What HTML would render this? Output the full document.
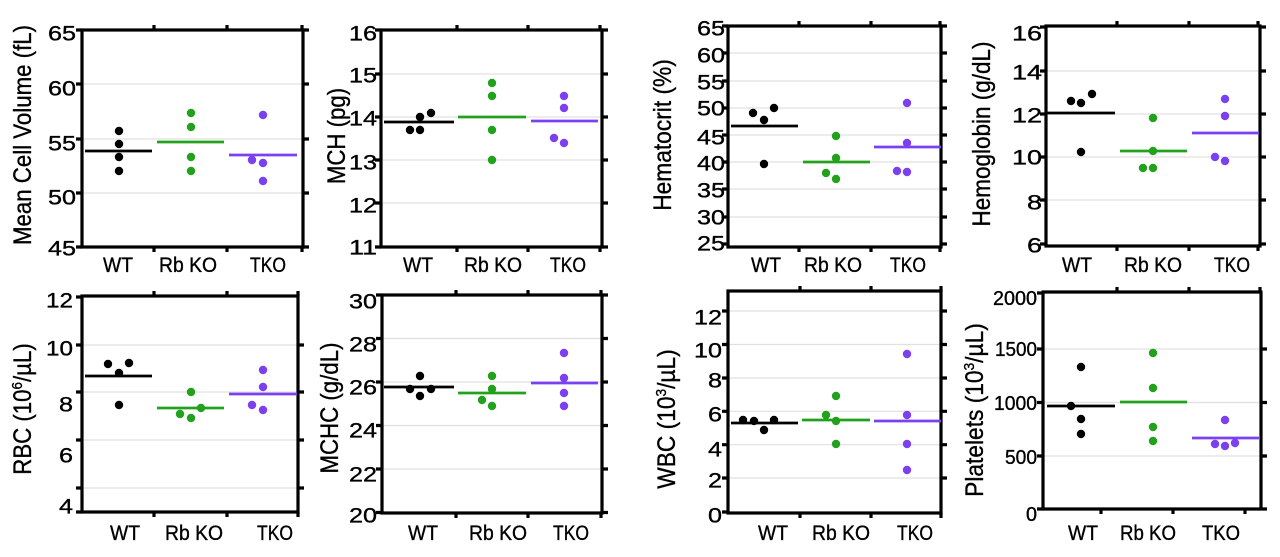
<!DOCTYPE html>
<html><head><meta charset="utf-8"><style>
html,body{margin:0;padding:0;background:#fff;}
svg{display:block;}
text{font-family:"Liberation Sans",Arial,sans-serif;fill:#000;stroke:#000;stroke-width:0.35;}
.ax{stroke:#000;stroke-width:3.2;fill:none;}
.tk{stroke:#000;stroke-width:3.2;}
.gr{stroke:#e0e0e0;stroke-width:1.2;}
.yl{font-size:21px;text-anchor:end;}
.y8{font-size:20px;text-anchor:end;}
.xl{font-size:21px;text-anchor:middle;}
.tt{font-size:25px;text-anchor:middle;}
.k{fill:#000;} .g{fill:#22a11c;} .p{fill:#7b40f0;}
.mk{stroke:#000;stroke-width:2.8;} .mg{stroke:#22a11c;stroke-width:2.8;} .mp{stroke:#7b40f0;stroke-width:2.8;}
</style></head><body>
<svg width="1280" height="557" viewBox="0 0 1280 557" xmlns="http://www.w3.org/2000/svg">
<rect width="1280" height="557" fill="#fff"/>

<!-- ============ PANEL 1 ============ -->
<g>
<line class="gr" x1="82" x2="305" y1="84" y2="84"/><line class="gr" x1="82" x2="305" y1="139" y2="139"/><line class="gr" x1="82" x2="305" y1="193" y2="193"/>
<rect class="ax" x="82" y="30" width="221" height="217"/>
<path class="tk" d="M154 30V25M227 30V25M302 30V25M154 247V252M227 247V252M302 247V252"/>
<path class="tk" d="M82 30H76M82 84H76M82 139H76M82 193H76M82 247H76M303 30H309M303 84H309M303 139H309M303 193H309M303 247H309"/>
<text class="yl" x="76" y="40.5" textLength="28" lengthAdjust="spacingAndGlyphs">65</text>
<text class="yl" x="76" y="95.5" textLength="28" lengthAdjust="spacingAndGlyphs">60</text>
<text class="yl" x="76" y="150.5" textLength="28" lengthAdjust="spacingAndGlyphs">55</text>
<text class="yl" x="76" y="204.5" textLength="28" lengthAdjust="spacingAndGlyphs">50</text>
<text class="yl" x="76" y="255.5" textLength="28" lengthAdjust="spacingAndGlyphs">45</text>
<text class="tt" transform="translate(31,135) rotate(-90) scale(0.89,1)">Mean Cell Volume (fL)</text>
<text class="xl" x="118" y="272" textLength="30" lengthAdjust="spacingAndGlyphs">WT</text>
<text class="xl" x="188" y="272" textLength="58" lengthAdjust="spacingAndGlyphs">Rb KO</text>
<text class="xl" x="268" y="272" textLength="36" lengthAdjust="spacingAndGlyphs">TKO</text>
<line class="mk" x1="85" x2="152" y1="151" y2="151"/>
<line class="mg" x1="157" x2="224" y1="142" y2="142"/>
<line class="mp" x1="229" x2="297" y1="155" y2="155"/>
<circle class="k" cx="119" cy="131" r="4.2"/><circle class="k" cx="119" cy="144" r="4.2"/><circle class="k" cx="119" cy="157" r="4.2"/><circle class="k" cx="119" cy="171" r="4.2"/>
<circle class="g" cx="191" cy="113" r="4.2"/><circle class="g" cx="191" cy="127" r="4.2"/><circle class="g" cx="191" cy="157" r="4.2"/><circle class="g" cx="191" cy="171" r="4.2"/>
<circle class="p" cx="263" cy="115" r="4.2"/><circle class="p" cx="252" cy="160" r="4.2"/><circle class="p" cx="263" cy="163" r="4.2"/><circle class="p" cx="263" cy="181" r="4.2"/>
</g>

<!-- ============ PANEL 2 ============ -->
<g>
<line class="gr" x1="381" x2="602" y1="74" y2="74"/><line class="gr" x1="381" x2="602" y1="117" y2="117"/><line class="gr" x1="381" x2="602" y1="160" y2="160"/><line class="gr" x1="381" x2="602" y1="203" y2="203"/>
<rect class="ax" x="381" y="30" width="221" height="217"/>
<path class="tk" d="M457 30V25M528 30V25M600 30V25M457 247V252M528 247V252M600 247V252"/>
<path class="tk" d="M381 30H375M381 74H375M381 117H375M381 160H375M381 203H375M381 247H375M602 30H608M602 74H608M602 117H608M602 160H608M602 203H608M602 247H608"/>
<text class="yl" x="377" y="40.5" textLength="28" lengthAdjust="spacingAndGlyphs">16</text>
<text class="yl" x="377" y="82.5" textLength="28" lengthAdjust="spacingAndGlyphs">15</text>
<text class="yl" x="377" y="125.5" textLength="28" lengthAdjust="spacingAndGlyphs">14</text>
<text class="yl" x="377" y="169.5" textLength="28" lengthAdjust="spacingAndGlyphs">13</text>
<text class="yl" x="377" y="212.5" textLength="28" lengthAdjust="spacingAndGlyphs">12</text>
<text class="yl" x="377" y="254.5" textLength="28" lengthAdjust="spacingAndGlyphs">11</text>
<text class="tt" transform="translate(345,136) rotate(-90) scale(0.89,1)">MCH (pg)</text>
<text class="xl" x="418" y="272" textLength="30" lengthAdjust="spacingAndGlyphs">WT</text>
<text class="xl" x="493" y="272" textLength="58" lengthAdjust="spacingAndGlyphs">Rb KO</text>
<text class="xl" x="568" y="272" textLength="36" lengthAdjust="spacingAndGlyphs">TKO</text>
<line class="mk" x1="384" x2="454" y1="122" y2="122"/>
<line class="mg" x1="458" x2="526" y1="117" y2="117"/>
<line class="mp" x1="531" x2="598" y1="121" y2="121"/>
<circle class="k" cx="410" cy="130" r="4.2"/><circle class="k" cx="420" cy="130" r="4.2"/><circle class="k" cx="420" cy="117" r="4.2"/><circle class="k" cx="431" cy="113" r="4.2"/>
<circle class="g" cx="492" cy="83" r="4.2"/><circle class="g" cx="492" cy="96" r="4.2"/><circle class="g" cx="492" cy="130" r="4.2"/><circle class="g" cx="492" cy="160" r="4.2"/>
<circle class="p" cx="564" cy="96" r="4.2"/><circle class="p" cx="564" cy="108" r="4.2"/><circle class="p" cx="554" cy="138" r="4.2"/><circle class="p" cx="564" cy="143" r="4.2"/>
</g>

<!-- ============ PANEL 3 ============ -->
<g>
<line class="gr" x1="728" x2="941" y1="53" y2="53"/><line class="gr" x1="728" x2="941" y1="81" y2="81"/><line class="gr" x1="728" x2="941" y1="108" y2="108"/><line class="gr" x1="728" x2="941" y1="135" y2="135"/><line class="gr" x1="728" x2="941" y1="162" y2="162"/><line class="gr" x1="728" x2="941" y1="189" y2="189"/><line class="gr" x1="728" x2="941" y1="217" y2="217"/>
<rect class="ax" x="728" y="26" width="213" height="221"/>
<path class="tk" d="M799 26V21M871 26V21M940 26V21M799 247V252M871 247V252M940 247V252"/>
<path class="tk" d="M728 26H722M728 53H722M728 81H722M728 108H722M728 135H722M728 162H722M728 189H722M728 217H722M728 244H722M941 26H947M941 53H947M941 81H947M941 108H947M941 135H947M941 162H947M941 189H947M941 217H947M941 244H947"/>
<text class="yl" x="725" y="35.5" textLength="28" lengthAdjust="spacingAndGlyphs">65</text>
<text class="yl" x="725" y="62.5" textLength="28" lengthAdjust="spacingAndGlyphs">60</text>
<text class="yl" x="725" y="89.5" textLength="28" lengthAdjust="spacingAndGlyphs">55</text>
<text class="yl" x="725" y="115.5" textLength="28" lengthAdjust="spacingAndGlyphs">50</text>
<text class="yl" x="725" y="144.5" textLength="28" lengthAdjust="spacingAndGlyphs">45</text>
<text class="yl" x="725" y="170.5" textLength="28" lengthAdjust="spacingAndGlyphs">40</text>
<text class="yl" x="725" y="197.5" textLength="28" lengthAdjust="spacingAndGlyphs">35</text>
<text class="yl" x="725" y="224.5" textLength="28" lengthAdjust="spacingAndGlyphs">30</text>
<text class="yl" x="725" y="250.5" textLength="28" lengthAdjust="spacingAndGlyphs">25</text>
<text class="tt" transform="translate(671,135) rotate(-90) scale(0.91,1)">Hematocrit (%)</text>
<text class="xl" x="766" y="272" textLength="30" lengthAdjust="spacingAndGlyphs">WT</text>
<text class="xl" x="833" y="272" textLength="58" lengthAdjust="spacingAndGlyphs">Rb KO</text>
<text class="xl" x="908" y="272" textLength="36" lengthAdjust="spacingAndGlyphs">TKO</text>
<line class="mk" x1="731" x2="798" y1="126" y2="126"/>
<line class="mg" x1="803" x2="870" y1="162" y2="162"/>
<line class="mp" x1="874" x2="941" y1="147" y2="147"/>
<circle class="k" cx="753" cy="113" r="4.2"/><circle class="k" cx="764" cy="120" r="4.2"/><circle class="k" cx="774" cy="108" r="4.2"/><circle class="k" cx="764" cy="164" r="4.2"/>
<circle class="g" cx="836" cy="136" r="4.2"/><circle class="g" cx="836" cy="158" r="4.2"/><circle class="g" cx="826" cy="173" r="4.2"/><circle class="g" cx="836" cy="179" r="4.2"/>
<circle class="p" cx="907" cy="103" r="4.2"/><circle class="p" cx="907" cy="143" r="4.2"/><circle class="p" cx="897" cy="171" r="4.2"/><circle class="p" cx="907" cy="172" r="4.2"/>
</g>

<!-- ============ PANEL 4 ============ -->
<g>
<line class="gr" x1="1046" x2="1260" y1="71" y2="71"/><line class="gr" x1="1046" x2="1260" y1="114" y2="114"/><line class="gr" x1="1046" x2="1260" y1="157" y2="157"/><line class="gr" x1="1046" x2="1260" y1="200" y2="200"/>
<rect class="ax" x="1046" y="26" width="214" height="220"/>
<path class="tk" d="M1117 26V21M1189 26V21M1258 26V21M1117 246V251M1189 246V251M1258 246V251"/>
<path class="tk" d="M1046 27H1040M1046 71H1040M1046 114H1040M1046 157H1040M1046 200H1040M1046 244H1040M1260 27H1266M1260 71H1266M1260 114H1266M1260 157H1266M1260 200H1266M1260 244H1266"/>
<text class="yl" x="1042" y="40.5" textLength="30" lengthAdjust="spacingAndGlyphs">16</text>
<text class="yl" x="1042" y="79.5" textLength="30" lengthAdjust="spacingAndGlyphs">14</text>
<text class="yl" x="1042" y="122.5" textLength="30" lengthAdjust="spacingAndGlyphs">12</text>
<text class="yl" x="1042" y="164.5" textLength="30" lengthAdjust="spacingAndGlyphs">10</text>
<text class="yl" x="1042" y="209.5" textLength="15" lengthAdjust="spacingAndGlyphs">8</text>
<text class="yl" x="1042" y="252.5" textLength="15" lengthAdjust="spacingAndGlyphs">6</text>
<text class="tt" transform="translate(990,134) rotate(-90) scale(0.9,1)">Hemoglobin (g/dL)</text>
<text class="xl" x="1077" y="272" textLength="30" lengthAdjust="spacingAndGlyphs">WT</text>
<text class="xl" x="1153" y="272" textLength="58" lengthAdjust="spacingAndGlyphs">Rb KO</text>
<text class="xl" x="1232" y="272" textLength="36" lengthAdjust="spacingAndGlyphs">TKO</text>
<line class="mk" x1="1047" x2="1115" y1="113" y2="113"/>
<line class="mg" x1="1120" x2="1187" y1="151" y2="151"/>
<line class="mp" x1="1192" x2="1259" y1="133" y2="133"/>
<circle class="k" cx="1071" cy="101" r="4.2"/><circle class="k" cx="1081" cy="103" r="4.2"/><circle class="k" cx="1092" cy="94" r="4.2"/><circle class="k" cx="1081" cy="152" r="4.2"/>
<circle class="g" cx="1153" cy="118" r="4.2"/><circle class="g" cx="1153" cy="151" r="4.2"/><circle class="g" cx="1143" cy="168" r="4.2"/><circle class="g" cx="1153" cy="168" r="4.2"/>
<circle class="p" cx="1225" cy="99" r="4.2"/><circle class="p" cx="1225" cy="116" r="4.2"/><circle class="p" cx="1215" cy="157" r="4.2"/><circle class="p" cx="1225" cy="161" r="4.2"/>
</g>

<!-- ============ PANEL 5 ============ -->
<g>
<line class="gr" x1="82" x2="298" y1="345" y2="345"/><line class="gr" x1="82" x2="298" y1="392" y2="392"/><line class="gr" x1="82" x2="298" y1="440" y2="440"/><line class="gr" x1="82" x2="298" y1="488" y2="488"/>
<rect class="ax" x="82" y="296" width="216" height="216"/>
<path class="tk" d="M154 296V291M227 296V291M298 296V291M154 512V517M227 512V517M298 512V517"/>
<path class="tk" d="M82 297H76M82 345H76M82 392H76M82 440H76M82 488H76M82 512H76M298 345H304M298 392H304M298 440H304M298 488H304"/>
<text class="yl" x="73" y="307.5" textLength="27" lengthAdjust="spacingAndGlyphs">12</text>
<text class="yl" x="73" y="355.5" textLength="27" lengthAdjust="spacingAndGlyphs">10</text>
<text class="yl" x="73" y="411.5" textLength="14" lengthAdjust="spacingAndGlyphs">8</text>
<text class="yl" x="73" y="462.5" textLength="14" lengthAdjust="spacingAndGlyphs">6</text>
<text class="yl" x="73" y="513.5" textLength="14" lengthAdjust="spacingAndGlyphs">4</text>
<text class="tt" transform="translate(31,409) rotate(-90) scale(0.89,1)">RBC (10<tspan font-size="15" dy="-9">6</tspan><tspan dy="9">/µL)</tspan></text>
<text class="xl" x="125" y="540" textLength="30" lengthAdjust="spacingAndGlyphs">WT</text>
<text class="xl" x="194" y="540" textLength="58" lengthAdjust="spacingAndGlyphs">Rb KO</text>
<text class="xl" x="275" y="540" textLength="36" lengthAdjust="spacingAndGlyphs">TKO</text>
<line class="mk" x1="85" x2="152" y1="376" y2="376"/>
<line class="mg" x1="157" x2="224" y1="408" y2="408"/>
<line class="mp" x1="229" x2="297" y1="394" y2="394"/>
<circle class="k" cx="108" cy="364" r="4.2"/><circle class="k" cx="119" cy="373" r="4.2"/><circle class="k" cx="129" cy="363" r="4.2"/><circle class="k" cx="119" cy="405" r="4.2"/>
<circle class="g" cx="191" cy="392" r="4.2"/><circle class="g" cx="180" cy="414" r="4.2"/><circle class="g" cx="191" cy="418" r="4.2"/><circle class="g" cx="201" cy="408" r="4.2"/>
<circle class="p" cx="263" cy="370" r="4.2"/><circle class="p" cx="263" cy="387" r="4.2"/><circle class="p" cx="252" cy="405" r="4.2"/><circle class="p" cx="263" cy="410" r="4.2"/>
</g>

<!-- ============ PANEL 6 ============ -->
<g>
<line class="gr" x1="382" x2="602" y1="338.5" y2="338.5"/><line class="gr" x1="382" x2="602" y1="382" y2="382"/><line class="gr" x1="382" x2="602" y1="425.5" y2="425.5"/><line class="gr" x1="382" x2="602" y1="469" y2="469"/>
<rect class="ax" x="382" y="295" width="220" height="218"/>
<path class="tk" d="M456 295V290M528 295V290M601 295V290M456 513V518M528 513V518M601 513V518"/>
<path class="tk" d="M382 295H376M382 338.5H376M382 382H376M382 425.5H376M382 469H376M382 512.5H376M602 295H608M602 338.5H608M602 382H608M602 425.5H608M602 469H608M602 512.5H608"/>
<text class="yl" x="377" y="308.5" textLength="28" lengthAdjust="spacingAndGlyphs">30</text>
<text class="yl" x="377" y="351.5" textLength="28" lengthAdjust="spacingAndGlyphs">28</text>
<text class="yl" x="377" y="394.5" textLength="28" lengthAdjust="spacingAndGlyphs">26</text>
<text class="yl" x="377" y="437.5" textLength="28" lengthAdjust="spacingAndGlyphs">24</text>
<text class="yl" x="377" y="481.5" textLength="28" lengthAdjust="spacingAndGlyphs">22</text>
<text class="yl" x="377" y="522.5" textLength="28" lengthAdjust="spacingAndGlyphs">20</text>
<text class="tt" transform="translate(338,408) rotate(-90) scale(0.89,1)">MCHC (g/dL)</text>
<text class="xl" x="423" y="540" textLength="30" lengthAdjust="spacingAndGlyphs">WT</text>
<text class="xl" x="498" y="540" textLength="58" lengthAdjust="spacingAndGlyphs">Rb KO</text>
<text class="xl" x="571" y="540" textLength="36" lengthAdjust="spacingAndGlyphs">TKO</text>
<line class="mk" x1="384" x2="454" y1="387" y2="387"/>
<line class="mg" x1="458" x2="526" y1="393" y2="393"/>
<line class="mp" x1="531" x2="598" y1="383" y2="383"/>
<circle class="k" cx="410" cy="389" r="4.2"/><circle class="k" cx="420" cy="376" r="4.2"/><circle class="k" cx="431" cy="389" r="4.2"/><circle class="k" cx="420" cy="396" r="4.2"/>
<circle class="g" cx="492" cy="376" r="4.2"/><circle class="g" cx="492" cy="389" r="4.2"/><circle class="g" cx="482" cy="400" r="4.2"/><circle class="g" cx="492" cy="406" r="4.2"/>
<circle class="p" cx="564" cy="353" r="4.2"/><circle class="p" cx="564" cy="378" r="4.2"/><circle class="p" cx="564" cy="393" r="4.2"/><circle class="p" cx="564" cy="406" r="4.2"/>
</g>

<!-- ============ PANEL 7 ============ -->
<g>
<line class="gr" x1="728" x2="941" y1="311" y2="311"/><line class="gr" x1="728" x2="941" y1="344.5" y2="344.5"/><line class="gr" x1="728" x2="941" y1="378" y2="378"/><line class="gr" x1="728" x2="941" y1="411.3" y2="411.3"/><line class="gr" x1="728" x2="941" y1="444.7" y2="444.7"/><line class="gr" x1="728" x2="941" y1="478" y2="478"/>
<rect class="ax" x="728" y="291" width="213" height="222"/>
<path class="tk" d="M800 291V286M871 291V286M941 291V286M800 513V518M871 513V518M941 513V518"/>
<path class="tk" d="M728 311H722M728 344.5H722M728 378H722M728 411.3H722M728 444.7H722M728 478H722M728 512H722M941 311H947M941 344.5H947M941 378H947M941 411.3H947M941 444.7H947M941 478H947"/>
<text class="yl" x="722" y="324.7" textLength="28" lengthAdjust="spacingAndGlyphs">12</text>
<text class="yl" x="722" y="357.7" textLength="28" lengthAdjust="spacingAndGlyphs">10</text>
<text class="yl" x="722" y="387.7" textLength="14" lengthAdjust="spacingAndGlyphs">8</text>
<text class="yl" x="722" y="421.7" textLength="14" lengthAdjust="spacingAndGlyphs">6</text>
<text class="yl" x="722" y="456.7" textLength="14" lengthAdjust="spacingAndGlyphs">4</text>
<text class="yl" x="722" y="487.7" textLength="14" lengthAdjust="spacingAndGlyphs">2</text>
<text class="yl" x="722" y="522.7" textLength="14" lengthAdjust="spacingAndGlyphs">0</text>
<text class="tt" transform="translate(675,419) rotate(-90) scale(0.91,1)">WBC (10<tspan font-size="15" dy="-9">3</tspan><tspan dy="9">/µL)</tspan></text>
<text class="xl" x="773" y="540" textLength="30" lengthAdjust="spacingAndGlyphs">WT</text>
<text class="xl" x="841" y="540" textLength="58" lengthAdjust="spacingAndGlyphs">Rb KO</text>
<text class="xl" x="915" y="540" textLength="36" lengthAdjust="spacingAndGlyphs">TKO</text>
<line class="mk" x1="731" x2="798" y1="423" y2="423"/>
<line class="mg" x1="802" x2="870" y1="420" y2="420"/>
<line class="mp" x1="874" x2="941" y1="421" y2="421"/>
<circle class="k" cx="743" cy="420" r="4.2"/><circle class="k" cx="754" cy="421" r="4.2"/><circle class="k" cx="764" cy="430" r="4.2"/><circle class="k" cx="774" cy="420" r="4.2"/>
<circle class="g" cx="836" cy="396" r="4.2"/><circle class="g" cx="826" cy="415" r="4.2"/><circle class="g" cx="836" cy="421" r="4.2"/><circle class="g" cx="836" cy="444" r="4.2"/>
<circle class="p" cx="907" cy="354" r="4.2"/><circle class="p" cx="907" cy="415" r="4.2"/><circle class="p" cx="907" cy="444" r="4.2"/><circle class="p" cx="907" cy="470" r="4.2"/>
</g>

<!-- ============ PANEL 8 ============ -->
<g>
<line class="gr" x1="1043" x2="1261" y1="349" y2="349"/><line class="gr" x1="1043" x2="1261" y1="402.5" y2="402.5"/><line class="gr" x1="1043" x2="1261" y1="456" y2="456"/>
<path class="ax" d="M1043 292V509M1041.5 292H1262.5M1261 292V508M1041.5 509H1267"/>
<path class="tk" d="M1117 292V287M1189 292V287M1260 292V287M1101 509V514M1173 509V514M1245 509V514"/>
<path class="tk" d="M1043 293H1037M1043 349H1037M1043 402.5H1037M1043 456H1037M1043 509H1037M1261 349H1267M1261 402.5H1267M1261 456H1267"/>
<text class="y8" x="1037" y="305" textLength="44" lengthAdjust="spacingAndGlyphs">2000</text>
<text class="y8" x="1037" y="356" textLength="42" lengthAdjust="spacingAndGlyphs">1500</text>
<text class="y8" x="1037" y="410" textLength="43" lengthAdjust="spacingAndGlyphs">1000</text>
<text class="y8" x="1037" y="464" textLength="32" lengthAdjust="spacingAndGlyphs">500</text>
<text class="y8" x="1037" y="521" textLength="11" lengthAdjust="spacingAndGlyphs">0</text>
<text class="tt" transform="translate(983,410) rotate(-90) scale(0.91,1)">Platelets (10<tspan font-size="15" dy="-9">3</tspan><tspan dy="9">/µL)</tspan></text>
<text class="xl" x="1083" y="540" textLength="30" lengthAdjust="spacingAndGlyphs">WT</text>
<text class="xl" x="1148" y="540" textLength="56" lengthAdjust="spacingAndGlyphs">Rb KO</text>
<text class="xl" x="1221" y="540" textLength="38" lengthAdjust="spacingAndGlyphs">TKO</text>
<line class="mk" x1="1047" x2="1115" y1="406" y2="406"/>
<line class="mg" x1="1120" x2="1187" y1="402" y2="402"/>
<line class="mp" x1="1192" x2="1259" y1="438" y2="438"/>
<circle class="k" cx="1081" cy="367" r="4.2"/><circle class="k" cx="1071" cy="406" r="4.2"/><circle class="k" cx="1081" cy="419" r="4.2"/><circle class="k" cx="1081" cy="434" r="4.2"/>
<circle class="g" cx="1153" cy="353" r="4.2"/><circle class="g" cx="1153" cy="388" r="4.2"/><circle class="g" cx="1153" cy="427" r="4.2"/><circle class="g" cx="1153" cy="441" r="4.2"/>
<circle class="p" cx="1225" cy="420" r="4.2"/><circle class="p" cx="1215" cy="444" r="4.2"/><circle class="p" cx="1225" cy="446" r="4.2"/><circle class="p" cx="1235" cy="443" r="4.2"/>
</g>
</svg>
</body></html>
